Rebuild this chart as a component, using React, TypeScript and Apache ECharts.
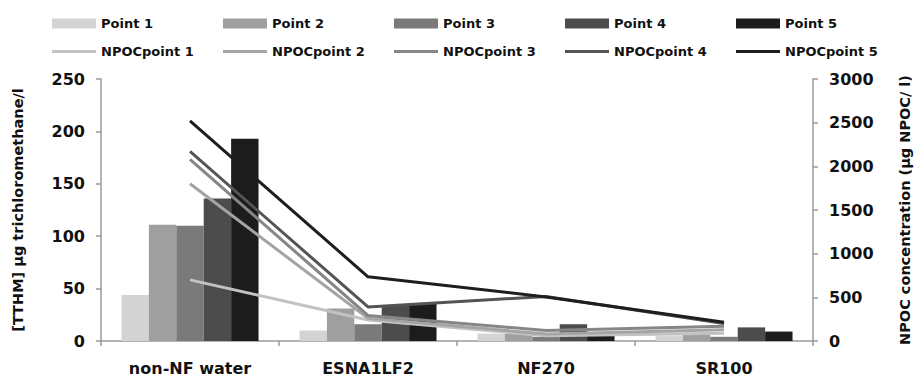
import React, { useEffect, useRef } from "react";
import * as echarts from "echarts";

const categories = ["non-NF water", "ESNA1LF2", "NF270", "SR100"];
const barNames = ["Point 1", "Point 2", "Point 3", "Point 4", "Point 5"];
const lineNames = ["NPOCpoint 1", "NPOCpoint 2", "NPOCpoint 3", "NPOCpoint 4", "NPOCpoint 5"];

// TTHM (µg trichloromethane/l)
const point1 = [44, 10, 7, 5];
const point2 = [111, 31, 7, 7];
const point3 = [110, 16, 4, 4];
const point4 = [136, 34, 16, 13];
const point5 = [193, 36, 5, 9];

// NPOC (µg NPOC/l)
const npoc1 = [700, 240, 60, 90];
const npoc2 = [1800, 260, 80, 130];
const npoc3 = [2080, 292, 120, 170];
const npoc4 = [2170, 390, 510, 200];
const npoc5 = [2520, 735, 505, 215];

const leftTicks = { min: 0, max: 250, interval: 50 };
const rightTicks = { min: 0, max: 3000, interval: 500 };

const barColors = ["#d3d3d3", "#9f9f9f", "#7a7a7a", "#4c4c4c", "#1c1c1c"];
const lineColors = ["#c2c2c2", "#a4a4a4", "#868686", "#545454", "#1e1e1e"];

const FONT = "DejaVu Sans";

export default function App() {
  const ref = useRef<HTMLDivElement>(null);
  useEffect(() => {
    if (!ref.current) return;
    const chart = echarts.init(ref.current, undefined, { renderer: "svg" });
    const barData = [point1, point2, point3, point4, point5];
    const lineData = [npoc1, npoc2, npoc3, npoc4, npoc5];
    const legendText = { fontFamily: FONT, fontWeight: "bold", fontSize: 13, color: "#111" };
    const legends: any[] = [];
    barNames.forEach((n, i) => {
      legends.push({
        left: 47 + 171 * i,
        top: 12,
        data: [n],
        icon: "rect",
        itemWidth: 44,
        itemHeight: 10,
        textStyle: legendText,
        selectedMode: false,
      });
    });
    lineNames.forEach((n, i) => {
      legends.push({
        left: 47 + 171 * i,
        top: 40,
        data: [n],
        icon: "rect",
        itemWidth: 44,
        itemHeight: 3,
        textStyle: legendText,
        selectedMode: false,
      });
    });
    const axisLine = { show: true, lineStyle: { color: "#9a9a9a", width: 1.5 } };
    const axisTick = { show: true, length: 5, lineStyle: { color: "#9a9a9a", width: 1.5 } };
    const labelStyle = { fontFamily: FONT, fontWeight: "bold", fontSize: 16, color: "#111" };
    const nameStyle = { fontFamily: FONT, fontWeight: "bold", fontSize: 14.5, color: "#111" };
    chart.setOption({
      animation: false,
      backgroundColor: "#ffffff",
      legend: legends,
      grid: { left: 101, right: 103, top: 79, bottom: 37, containLabel: false, outerBoundsMode: "none" },
      xAxis: {
        type: "category",
        data: categories,
        boundaryGap: true,
        axisLine,
        axisTick: { ...axisTick, alignWithLabel: false, interval: 0 },
        axisLabel: { ...labelStyle, margin: 19, interval: 0 },
        splitLine: { show: false },
      },
      yAxis: [
        {
          type: "value",
          ...leftTicks,
          position: "left",
          axisLine,
          axisTick,
          axisLabel: { ...labelStyle, margin: 16, formatter: (v: number) => String(v) },
          splitLine: { show: false },
          name: "[TTHM] µg trichloromethane/l",
          nameLocation: "middle",
          nameGap: 76,
          nameRotate: 90,
          nameTextStyle: nameStyle,
        },
        {
          type: "value",
          ...rightTicks,
          position: "right",
          axisLine,
          axisTick,
          axisLabel: { ...labelStyle, margin: 16, formatter: (v: number) => String(v) },
          splitLine: { show: false },
          name: "NPOC concentration (µg NPOC/ l)",
          nameLocation: "middle",
          nameGap: 84,
          nameRotate: 90,
          nameTextStyle: nameStyle,
        },
      ],
      series: [
        ...barNames.map((n, i) => ({
          name: n,
          type: "bar",
          yAxisIndex: 0,
          data: barData[i],
          barGap: "0%",
          barCategoryGap: "23%",
          itemStyle: { color: barColors[i] },
        })),
        ...lineNames.map((n, i) => ({
          name: n,
          type: "line",
          yAxisIndex: 1,
          data: lineData[i],
          showSymbol: false,
          symbol: "none",
          lineStyle: { color: lineColors[i], width: 3 },
          itemStyle: { color: lineColors[i] },
        })),
      ],
    });
    return () => chart.dispose();
  }, []);
  return (
    <div
      ref={ref}
      style={{ position: "fixed", left: 0, top: 0, width: 916, height: 378, background: "#fff" }}
    />
  );
}
